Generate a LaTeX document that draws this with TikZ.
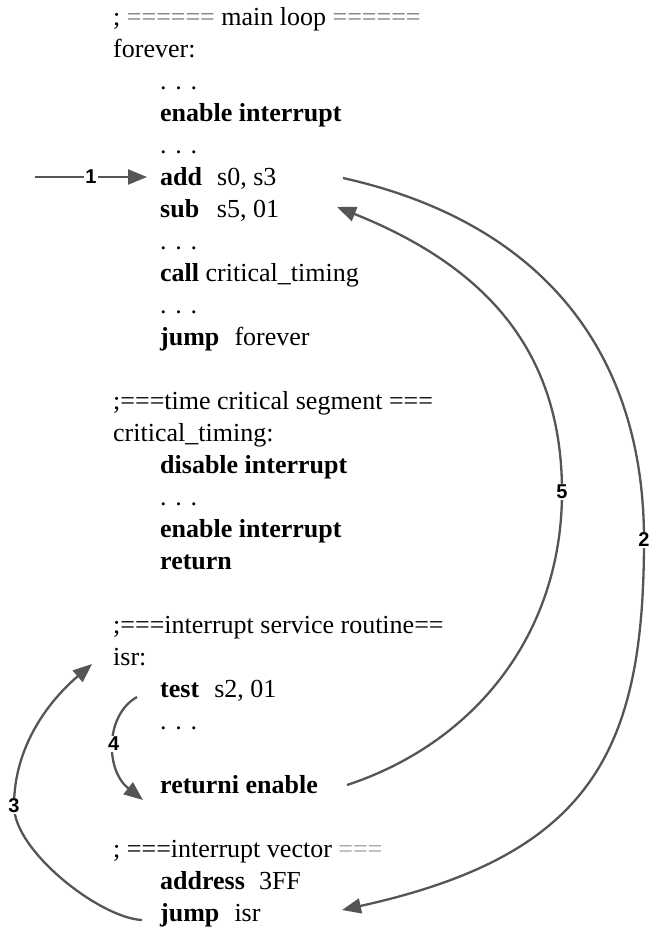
\documentclass[tikz,border=0pt]{standalone}
\usepackage{fontspec}
\setmainfont{Liberation Serif}
\newfontfamily\lblfont{Liberation Sans}
\usetikzlibrary{arrows.meta}
\definecolor{arrgray}{HTML}{555555}
\definecolor{eqgray}{HTML}{7A7A7A}
\definecolor{eqlight}{HTML}{A0A0A0}
\newcommand{\kwd}[2][0.58em]{\textbf{#2}\hspace{#1}}
\begin{document}
\begin{tikzpicture}[x=1pt,y=-1pt,
  code/.style={anchor=base west, inner sep=0pt, font=\fontsize{26}{30}\selectfont},
  lbl/.style={fill=white, inner sep=1.2pt, text=black, font=\lblfont\bfseries\fontsize{20}{20}\selectfont},
  arr/.style={draw=arrgray, line width=2.3pt, -{Triangle[length=19pt,width=15pt]}}]
\useasboundingbox (0,0) rectangle (652,929);
\clip (0,0) rectangle (652,929);
% ---- main loop
\node[code] (h1) at (113,25) {; {\color{eqgray}======} main loop {\color{eqgray}======}};
\node[code] (forever) at (113,57) {forever:};
\node[code] (d1) at (160,89) {. . .};
\node[code] (en1) at (160,121) {\textbf{enable interrupt}};
\node[code] (d2) at (160,153) {. . .};
\node[code] (add) at (160,185) {\kwd{add}s0, s3};
\node[code] (sub) at (160,217) {\kwd[0.68em]{sub}s5, 01};
\node[code] (d3) at (160,249) {. . .};
\node[code] (call) at (160,281) {\textbf{call} critical\_timing};
\node[code] (d4) at (160,313) {. . .};
\node[code] (jmp) at (160,345) {\kwd{jump}forever};
% ---- time critical segment
\node[code] (h2) at (113,409) {;===time critical segment ===};
\node[code] (ct) at (113,441) {critical\_timing:};
\node[code] (dis) at (160,473) {\textbf{disable interrupt}};
\node[code] (d5) at (160,505) {. . .};
\node[code] (en2) at (160,537) {\textbf{enable interrupt}};
\node[code] (ret) at (160,569) {\textbf{return}};
% ---- isr
\node[code] (h3) at (113,633) {;===interrupt service routine==};
\node[code] (isr) at (113,665) {isr:};
\node[code] (test) at (160,697) {\kwd{test}s2, 01};
\node[code] (d6) at (160,729) {. . .};
\node[code] (reti) at (160,793) {\textbf{returni enable}};
% ---- interrupt vector
\node[code] (h4) at (113,857) {; ===interrupt vector {\color{eqlight}===}};
\node[code] (addr) at (160,889) {\kwd[0.54em]{address}3FF};
\node[code] (jisr) at (160,921) {\kwd{jump}isr};
% ---- connector end points
\coordinate (a1s) at (35,177);
\coordinate (a1e) at (147,177);
\coordinate (a2s) at (343,178);
\coordinate (a2m) at (644,540);
\coordinate (a2e) at (342,910);
\coordinate (a3s) at (142,920);
\coordinate (a3m) at (14,806);
\coordinate (a3e) at (92,664);
\coordinate (a4s) at (137,697);
\coordinate (a4e) at (143,800);
\coordinate (a5s) at (347,785);
\coordinate (a5m) at (562,492);
\coordinate (a5e) at (337,207);
% ---- connectors
\draw[arr] (a1s) -- node[lbl] (l1) {1} (a1e);
\draw[arr] (a2s) .. controls (540,222) and (644,350) .. (a2m)
  .. controls (644,750) and (592,855) .. (a2e);
\node[lbl] (l2) at (a2m) {2};
\draw[arr] (a3s) .. controls (100,918) and (14,851) .. (a3m)
  .. controls (14,745) and (50,700) .. (a3e);
\node[lbl] (l3) at (a3m) {3};
\draw[arr] (a4s) .. controls (105,715) and (105,770) .. node[lbl,pos=0.5] (l4) {4} (a4e);
\draw[arr] (a5s) .. controls (477,742) and (562,632) .. (a5m)
  .. controls (562,352) and (487,267) .. (a5e);
\node[lbl] (l5) at (a5m) {5};
\end{tikzpicture}
\end{document}
